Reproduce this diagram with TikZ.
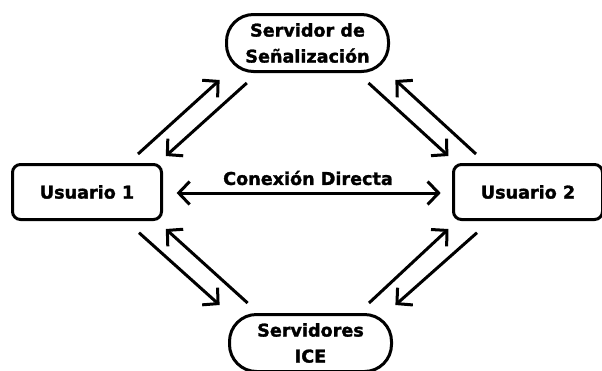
\documentclass[tikz,border=0pt]{standalone}
\usepackage{fontspec}
\setmainfont{DejaVu Sans}
\newfontfamily\heavyfont[FakeBold=1.6]{DejaVu Sans Bold}
\usetikzlibrary{arrows.meta}
\begin{document}
\begin{tikzpicture}[x=1pt,y=-1pt,
  txt/.style={font=\heavyfont\fontsize{17.6}{26}\selectfont},
  box/.style={draw, line width=3pt, rounded corners=8pt, inner sep=0pt, align=center, txt},
  pill/.style={box, rounded corners=27pt, minimum width=162pt, minimum height=57pt},
  user/.style={box, minimum width=149pt, minimum height=55pt},
  link/.style={line width=3pt, -{Straight Barb[length=11pt,width=23pt]}},
  both/.style={line width=3pt, {Straight Barb[length=11pt,width=23pt]}-{Straight Barb[length=11pt,width=23pt]}}]
\useasboundingbox (0,0) rectangle (602,370);
\node[pill] (sig) at (307.5,43) {Servidor de\\Señalización};
\node[pill] (ice) at (310.5,343) {Servidores\\ICE};
\node[user] (u1) at (87,192) {Usuario 1};
\node[user] (u2) at (528,192) {Usuario 2};
\node[txt] (lbl) at (308,178) {Conexión Directa};
% coordinates
\coordinate (a1s) at (138,154);   \coordinate (a1e) at (219.6,80);
\coordinate (a2s) at (246.8,83);  \coordinate (a2e) at (165.8,156);
\coordinate (a3s) at (368.5,83);  \coordinate (a3e) at (448.4,156);
\coordinate (a4s) at (476,154);   \coordinate (a4e) at (395.4,80);
\coordinate (a5s) at (139,232.7); \coordinate (a5e) at (219.6,305);
\coordinate (a6s) at (247.6,303); \coordinate (a6e) at (165.8,229);
\coordinate (a7s) at (369,303);   \coordinate (a7e) at (448.4,229);
\coordinate (a8s) at (477,232.7); \coordinate (a8e) at (395.4,305);
\coordinate (hl) at (176.6,193);  \coordinate (hr) at (440.7,193);
\draw[link] (a1s) -- (a1e);
\draw[link] (a2s) -- (a2e);
\draw[link] (a3s) -- (a3e);
\draw[link] (a4s) -- (a4e);
\draw[link] (a5s) -- (a5e);
\draw[link] (a6s) -- (a6e);
\draw[link] (a7s) -- (a7e);
\draw[link] (a8s) -- (a8e);
\draw[both] (hl) -- (hr);
\end{tikzpicture}
\end{document}
